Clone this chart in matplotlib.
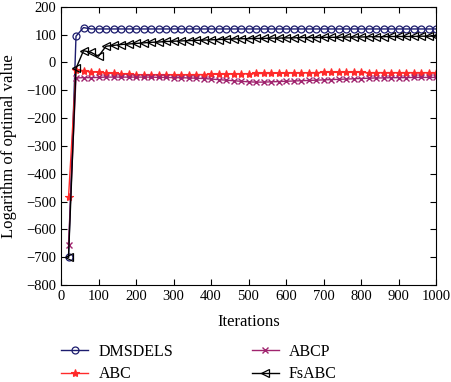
import numpy as np
import matplotlib
matplotlib.use("Agg")
import matplotlib.pyplot as plt

plt.rcParams['font.family'] = ['Liberation Serif', 'DejaVu Serif']
plt.rcParams['font.size'] = 11

# iterations 20, 40, ..., 1000
iters = np.arange(20, 1001, 20)

dmsdels = [-700, 94, 125] + [120] * 47

abc = [-485, -26, -30, -33, -36, -38, -40, -42, -43, -44,
       -45, -45, -45, -45, -45, -45, -45, -44, -44, -43,
       -43, -42, -42, -41, -41, -40, -40, -40, -39, -39,
       -38, -38, -37, -37, -36, -36, -36, -36, -36, -36,
       -37, -37, -37, -37, -37, -37, -37, -37, -37, -37]

abcp = [-655, -56, -55, -55, -54, -53, -53, -53, -53, -53,
        -53, -53, -54, -54, -55, -55, -56, -57, -58, -60,
        -62, -64, -66, -68, -70, -71, -71, -70, -69, -68,
        -67, -66, -65, -64, -63, -62, -61, -60, -59, -58,
        -57, -56, -56, -55, -55, -55, -54, -54, -54, -54]

fsabc = [-700, -22, 42, 36, 22, 58, 61, 64, 66, 68,
         70, 72, 73, 75, 76, 77, 78, 79, 80, 81,
         82, 83, 84, 85, 85, 86, 86, 87, 87, 88,
         88, 89, 89, 89, 90, 90, 90, 91, 91, 91,
         92, 92, 92, 93, 93, 93, 93, 94, 94, 94]

fig = plt.figure(figsize=(4.51, 3.82), dpi=100)
ax = fig.add_axes([61 / 451, 1 - 285 / 382, 375 / 451, 278.3 / 382])

l1, = ax.plot(iters, dmsdels, color='#1c1c6e', lw=1, marker='o', ms=5,
              mfc='none', mew=0.9, label='DMSDELS')
l2, = ax.plot(iters, abc, color='#ff2a2a', lw=1, marker='*', ms=6,
              mew=0.8, label='ABC')
l3, = ax.plot(iters, abcp, color='#a0246e', lw=1, marker='x', ms=4,
              mew=1, label='ABCP')
l4, = ax.plot(iters, fsabc, color='black', lw=1, marker='<', ms=5.5,
              mfc='none', mew=0.9, label='FsABC')

ax.set_xlim(0, 1000)
ax.set_ylim(-800, 200)
ax.set_xticks(np.arange(0, 1001, 100))
ax.set_yticks(np.arange(-800, 201, 100))
ax.tick_params(direction='in', top=True, right=True, length=4, width=0.8,
               labelsize=10.5)
ax.set_xlabel('Iterations', fontsize=12)
ax.set_ylabel('Logarithm of optimal value', fontsize=12)
ax.xaxis.set_label_coords(0.5, -0.105)
ax.yaxis.set_label_coords(-0.118, 0.5)

fig.legend(handles=[l1, l2, l3, l4], ncol=2, loc='upper left',
           bbox_to_anchor=(61 / 451, 1 - 344 / 382), frameon=False,
           borderpad=0, borderaxespad=0,
           handlelength=1.7, columnspacing=4.9, labelspacing=0.4,
           handletextpad=0.65, fontsize=11.5)

fig.savefig('out.png', dpi=100)
